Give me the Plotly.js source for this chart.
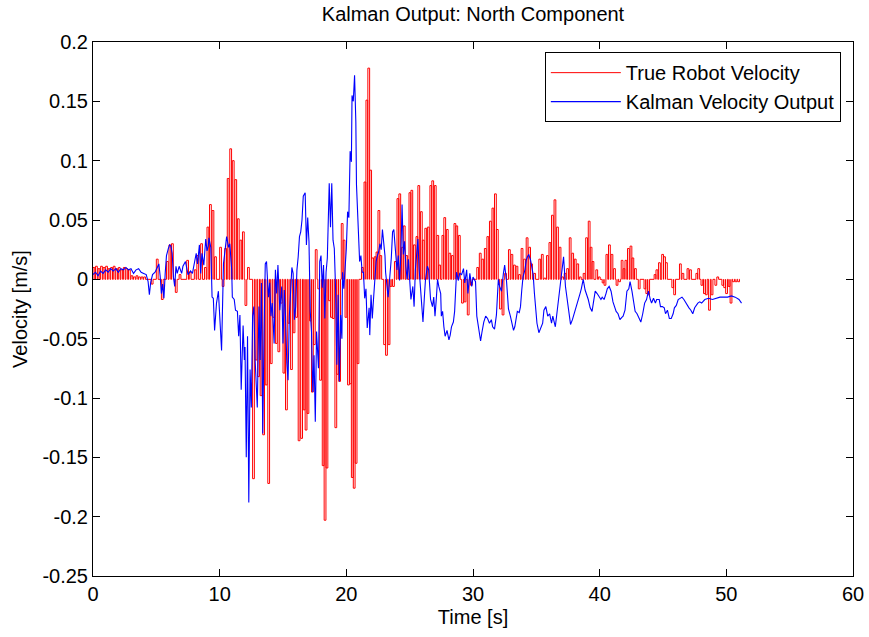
<!DOCTYPE html>
<html>
<head>
<meta charset="utf-8">
<script src="https://cdn.plot.ly/plotly-3.0.1.min.js"></script>
<style>html,body{margin:0;padding:0;background:#fff;}#chart{width:869px;height:637px;}</style>
</head>
<body>
<div id="chart"></div>
<script>
// ---- True robot velocity pulses (time s, value m/s) ----
const redT = [0.0,0.2,0.4,0.6,0.8,1.0,1.2,1.4,1.6,1.8,2.0,2.2,2.4,2.6,2.8,3.0,3.2,3.4,3.6,3.8,4.0,
  4.6,5.0,5.4,5.8,6.0,6.2,6.5,6.8,7.4,7.6,8.0,8.2,8.5,8.8,9.0,9.2,9.4,9.6,10.0,10.2,10.4,10.6,10.8,11.0,11.2,11.4,11.6,11.8,12.0,12.2,12.6,12.8,
  13.0,13.2,13.4,13.6,13.8,14.0,14.2,14.4,14.6,14.8,15.0,15.2,15.4,15.6,15.8,16.0,16.2,16.4,16.6,16.75,16.9,17.1,17.25,17.4,17.55,17.75,17.9,
  18.1,18.25,18.4,18.6,18.75,18.9,19.1,19.25,19.4,19.6,19.75,19.9,20.1,20.25,20.4,20.55,20.7,20.85,21.2,21.4,21.55,21.7,21.85,22.0,22.2,22.35,22.5,22.65,
  22.95,23.1,23.3,23.45,23.65,23.8,24.0,24.15,24.35,24.5,24.7,24.95,25.1,25.3,25.5,25.65,25.85,26.0,26.2,26.4,26.6,26.75,26.95,27.15,27.3,27.55,27.7,27.9,
  28.1,28.3,28.5,28.65,28.85,29.1,29.3,29.55,29.8,30.3,30.5,30.7,30.9,31.1,31.3,31.5,31.7,31.85,32.1,32.3,32.5,32.8,33.0,33.2,33.4,33.6,33.8,
  34.0,34.2,34.4,34.55,34.8,35.2,35.4,35.6,35.8,36.0,36.2,36.4,36.6,36.8,37.0,37.2,37.4,37.6,37.8,38.0,38.2,38.4,38.7,38.9,39.1,39.25,39.4,39.7,39.9,
  40.2,40.35,40.5,40.7,40.9,41.1,41.3,41.5,41.7,41.85,42.0,42.2,42.4,42.55,42.75,43.05,43.5,43.65,43.8,44.3,44.45,44.65,44.9,45.05,45.2,45.7,45.85,
  46.3,46.5,46.9,47.1,47.6,47.75,48.0,48.2,48.35,48.6,48.8,49.1,49.25,49.65,49.8,49.95,50.15,50.3,50.5,50.7,50.9];
const redV = [0.010,0.011,0.009,0.011,0.010,0.011,0.009,0.010,0.011,0.009,0.010,0.008,0.010,0.009,0.008,0.003,0.002,0.003,0.002,0.002,0.002,
  -0.004,0.017,-0.017,0.015,0.029,0.030,-0.011,0.004,0.016,0.006,0.008,0.020,0.030,0.010,0.044,0.063,0.058,0.019,0.027,-0.006,0.026,0.085,0.110,0.100,0.084,0.051,0.033,0.040,-0.022,0.010,-0.168,-0.068,
  -0.082,-0.098,-0.131,-0.089,-0.172,-0.071,-0.032,-0.054,-0.061,-0.020,-0.079,-0.110,-0.037,-0.076,-0.045,-0.032,-0.136,-0.134,-0.110,-0.127,-0.113,-0.035,-0.095,-0.055,0.025,-0.008,-0.085,
  -0.157,-0.203,-0.159,-0.018,-0.032,-0.033,-0.125,-0.080,-0.086,0.047,0.033,-0.032,-0.089,-0.088,-0.167,-0.176,-0.155,-0.071,0.010,0.082,0.151,0.178,0.092,0.018,0.019,0.023,0.058,0.020,
  -0.055,-0.064,-0.055,-0.006,-0.006,0.015,0.068,0.072,0.027,0.045,0.020,0.073,0.075,0.029,0.036,0.079,0.057,0.033,0.043,0.044,0.079,0.083,0.079,0.037,0.012,0.037,0.052,0.042,
  0.022,0.020,0.047,0.045,0.037,-0.020,-0.019,-0.030,-0.005,0.010,0.022,0.017,0.026,0.036,0.049,0.060,0.072,0.042,-0.025,-0.030,0.005,0.025,0.021,0.012,0.011,0.004,0.026,
  0.017,0.035,0.027,0.013,0.005,0.017,0.021,0.001,0.020,0.031,0.054,0.067,0.044,0.027,0.002,0.005,0.009,0.035,0.022,0.017,0.013,0.002,0.005,0.035,0.049,0.027,0.015,0.008,0.002,
  -0.003,-0.005,0.021,0.029,0.021,0.009,-0.005,-0.002,0.016,0.009,0.016,0.026,0.028,0.018,0.009,-0.008,-0.008,-0.012,-0.013,0.004,0.008,0.014,0.021,0.019,0.014,-0.007,-0.013,
  0.013,0.005,0.009,0.008,0.005,0.009,-0.005,-0.012,-0.013,-0.026,-0.013,-0.005,0.002,-0.005,-0.007,-0.012,-0.006,-0.020,-0.002,-0.002,-0.002];
const redEnd = 51.0;

// ---- Kalman velocity output (time s, value m/s) ----
const blueT = [0.0,0.2,0.4,0.6,0.8,1.0,1.2,1.4,1.6,1.8,2.0,2.2,2.4,2.6,2.8,3.0,3.2,3.4,3.6,3.8,4.0,4.2,4.35,4.45,4.55,4.7,4.9,5.05,5.2,5.3,5.4,5.5,5.6,5.7,5.8,5.95,
  6.05,6.15,6.25,6.35,6.45,6.55,6.65,6.8,7.0,7.1,7.3,7.5,7.7,7.85,8.0,8.15,8.25,8.4,8.5,8.6,8.75,8.9,9.0,9.1,9.15,9.3,9.4,9.5,9.6,9.75,9.9,10.0,10.15,10.3,10.4,10.55,10.7,10.8,10.95,
  11.0,11.15,11.25,11.4,11.5,11.6,11.7,11.85,11.95,12.0,12.1,12.2,12.3,12.4,12.5,12.6,12.7,12.8,12.97,13.1,13.2,13.3,13.4,13.5,13.6,13.7,13.85,13.95,14.05,14.15,14.3,14.4,14.5,14.6,14.75,14.9,
  15.0,15.1,15.2,15.3,15.4,15.5,15.6,15.7,15.8,15.9,16.0,16.1,16.2,16.3,16.4,16.5,16.6,16.75,16.85,16.95,17.05,17.15,17.25,17.35,17.45,17.55,17.65,17.8,17.9,18.0,18.1,18.2,18.3,18.4,18.5,
  18.65,18.75,18.85,18.95,19.05,19.15,19.25,19.35,19.45,19.55,19.65,19.7,19.8,19.9,20.0,20.1,20.2,20.3,20.4,20.45,20.55,20.65,20.75,20.8,20.9,21.0,21.05,21.15,21.25,21.35,21.45,21.55,21.65,21.8,21.85,21.95,
  22.05,22.15,22.25,22.35,22.45,22.55,22.65,22.75,22.85,22.95,23.05,23.1,23.2,23.3,23.4,23.55,23.65,23.75,23.85,24.0,24.1,24.2,24.3,24.4,24.5,24.6,24.7,24.8,24.9,25.0,25.1,25.25,25.35,25.45,25.55,25.65,25.75,25.85,25.95,
  26.05,26.15,26.25,26.4,26.5,26.65,26.8,26.9,27.0,27.1,27.2,27.3,27.45,27.5,27.6,27.7,27.8,27.95,28.1,28.2,28.3,28.45,28.55,28.7,28.85,28.95,29.1,29.25,29.35,29.5,29.6,29.75,29.9,30.0,30.2,30.3,30.45,30.6,30.7,30.85,
  31.0,31.15,31.3,31.45,31.55,31.7,31.85,32.0,32.1,32.25,32.4,32.5,32.65,32.8,32.95,33.05,33.2,33.3,33.4,33.5,33.65,33.75,33.85,33.95,34.1,34.2,34.3,34.4,34.55,34.65,34.75,34.85,34.95,35.05,35.2,35.35,35.5,35.6,35.75,35.9,
  36.05,36.2,36.3,36.5,36.6,36.75,36.9,37.0,37.15,37.3,37.45,37.6,37.7,37.85,38.0,38.15,38.3,38.45,38.55,38.7,38.85,39.0,39.1,39.25,39.4,39.5,39.65,39.8,39.95,40.1,40.2,40.35,40.5,40.6,40.75,40.9,
  41.05,41.2,41.3,41.45,41.6,41.75,41.85,42.0,42.15,42.3,42.4,42.55,42.7,42.8,42.95,43.1,43.25,43.4,43.55,43.7,43.85,44.0,44.1,44.25,44.4,44.5,44.7,44.8,44.95,45.1,45.2,45.35,45.5,45.65,45.8,45.9,
  46.05,46.2,46.35,46.5,46.65,46.8,46.95,47.05,47.2,47.35,47.5,47.6,47.75,47.9,48.05,48.3,48.6,48.9,49.2,49.5,49.8,50.1,50.4,50.7,51.0,51.2];
const blueV = [0.004,0.006,0.003,0.007,0.005,0.008,0.006,0.009,0.007,0.009,0.006,0.009,0.008,0.010,0.008,0.009,0.005,0.008,0.009,0.006,0.005,0.004,-0.002,-0.013,-0.003,0.004,0.006,0.010,0.013,0.003,-0.012,-0.004,-0.016,0.005,0.020,0.026,
  0.029,0.028,0.022,0.002,-0.006,0.011,0.005,0.011,0.005,0.011,0.015,0.004,0.007,0.005,0.015,0.022,0.013,0.029,0.005,0.022,0.012,0.034,0.024,0.028,0.035,0.027,-0.015,-0.016,-0.043,-0.020,-0.010,-0.027,-0.060,0.013,0.023,0.036,0.027,0.030,0.008,
  -0.015,-0.017,-0.026,-0.027,-0.048,-0.030,-0.093,-0.039,-0.068,-0.057,-0.150,-0.048,-0.188,-0.076,-0.108,-0.031,-0.023,-0.068,-0.108,-0.023,-0.068,-0.003,-0.130,-0.048,0.013,0.015,-0.015,-0.003,-0.031,-0.020,-0.054,0.008,-0.012,0.012,-0.026,-0.006,
  -0.054,-0.009,-0.031,-0.070,-0.085,-0.031,-0.015,0.010,0.005,-0.034,-0.023,0.008,0.019,0.036,0.040,0.050,0.070,0.073,0.029,0.052,0.032,-0.027,-0.044,-0.095,-0.064,-0.120,-0.044,-0.075,0.015,0.020,-0.007,0.012,-0.033,0.006,0.018,
  0.081,0.044,0.081,0.033,0.026,-0.008,-0.072,-0.013,-0.086,-0.030,-0.050,0.006,-0.008,0.009,0.026,0.057,0.052,0.108,0.099,0.155,0.150,0.172,0.133,0.080,0.054,0.032,0.015,0.020,0.006,0.006,-0.016,-0.008,-0.041,-0.024,-0.047,-0.013,
  -0.033,-0.016,-0.002,0.015,0.020,0.023,0.030,0.025,0.042,0.030,0.020,0.006,-0.008,-0.015,-0.002,0.018,0.040,0.042,0.028,0.008,0.020,-0.001,0.019,0.063,0.021,0.032,0.011,0.000,0.017,0.002,-0.017,-0.006,-0.023,0.008,0.022,0.034,0.008,-0.006,-0.026,
  -0.036,-0.017,0.000,0.011,0.008,-0.017,-0.023,-0.015,-0.031,-0.017,0.000,-0.006,-0.012,-0.031,-0.027,-0.040,-0.048,-0.043,-0.051,-0.047,-0.040,-0.036,-0.027,0.006,-0.001,0.005,0.004,0.009,-0.003,0.008,-0.012,0.005,-0.006,0.002,-0.002,-0.031,-0.044,-0.052,-0.045,-0.036,
  -0.031,-0.033,-0.037,-0.034,-0.040,-0.042,-0.030,0.000,-0.006,-0.010,0.005,0.012,-0.002,-0.025,-0.031,-0.037,-0.043,-0.040,-0.031,-0.027,-0.028,-0.023,-0.009,0.002,0.008,0.016,0.019,0.021,0.016,0.008,0.004,-0.012,-0.023,-0.037,-0.045,-0.040,-0.037,-0.026,-0.023,-0.031,
  -0.029,-0.037,-0.031,-0.040,-0.031,-0.017,-0.006,0.008,0.019,-0.006,-0.017,-0.031,-0.038,-0.034,-0.029,-0.024,-0.017,-0.012,-0.008,0.000,-0.009,-0.013,-0.017,-0.024,-0.027,-0.020,-0.010,-0.012,-0.015,-0.017,-0.015,-0.017,-0.012,-0.008,-0.006,-0.010,
  -0.019,-0.023,-0.027,-0.029,-0.034,-0.032,-0.031,-0.026,-0.010,-0.008,-0.002,-0.010,-0.020,-0.027,-0.029,-0.033,-0.036,-0.029,-0.020,-0.017,-0.010,-0.017,-0.020,-0.016,-0.020,-0.017,-0.017,-0.023,-0.023,-0.024,-0.029,-0.026,-0.033,-0.033,-0.029,-0.024,
  -0.022,-0.017,-0.016,-0.015,-0.017,-0.020,-0.022,-0.024,-0.026,-0.029,-0.024,-0.022,-0.020,-0.019,-0.020,-0.017,-0.016,-0.017,-0.016,-0.015,-0.015,-0.015,-0.014,-0.015,-0.017,-0.020];

// ---- Axis ticks ----
const xTickVals = [0,10,20,30,40,50,60];
const xTickText = ["0","10","20","30","40","50","60"];
const yTickVals = [-0.25,-0.2,-0.15,-0.1,-0.05,0,0.05,0.1,0.15,0.2];
const yTickText = ["-0.25","-0.2","-0.15","-0.1","-0.05","0","0.05","0.1","0.15","0.2"];

// Build the pulse-shaped red line from the samples
const PULSE_W = 0.14;
const rx = [0], ry = [0];
for (let i = 0; i < redT.length; i++) {
  const t = redT[i], v = redV[i];
  rx.push(t, t, t + PULSE_W, t + PULSE_W);
  ry.push(0, v, v, 0);
}
rx.push(redEnd); ry.push(0);

const font = "Liberation Sans, Arial, Helvetica, sans-serif";
const traces = [
  {x: rx, y: ry, type: 'scatter', mode: 'lines', name: 'True Robot Velocity',
   line: {color: '#ff0000', width: 1}},
  {x: blueT, y: blueV, type: 'scatter', mode: 'lines', name: 'Kalman Velocity Output',
   line: {color: '#0000ff', width: 1.1}}
];
const axisCommon = {
  showline: true, linecolor: '#000', linewidth: 1, mirror: 'ticks',
  ticks: 'inside', ticklen: 7, tickcolor: '#000', tickwidth: 1,
  showgrid: false, zeroline: false, tickmode: 'array',
  tickfont: {family: font, size: 20, color: '#000'}
};
const layout = {
  width: 869, height: 637,
  margin: {l: 93, r: 16, t: 42, b: 61},
  paper_bgcolor: '#fff', plot_bgcolor: '#fff',
  title: {text: 'Kalman Output: North Component', font: {family: font, size: 20, color: '#000'},
          x: 0.5, xref: 'paper', y: 1, yref: 'container', yanchor: 'top', pad: {t: 7}},
  xaxis: Object.assign({}, axisCommon, {range: [0, 60], tickvals: xTickVals, ticktext: xTickText,
          title: {text: 'Time [s]', font: {family: font, size: 20, color: '#000'}, standoff: 5}}),
  yaxis: Object.assign({}, axisCommon, {range: [-0.25, 0.2], tickvals: yTickVals, ticktext: yTickText,
          title: {text: 'Velocity [m/s]', font: {family: font, size: 20, color: '#000'}, standoff: 9}}),
  showlegend: true,
  legend: {x: 0.984, y: 0.981, xanchor: 'right', yanchor: 'top', bgcolor: '#fff',
           bordercolor: '#000', borderwidth: 1, font: {family: font, size: 20, color: '#000'},
           tracegroupgap: 0, itemwidth: 70}
};
Plotly.newPlot('chart', traces, layout, {displayModeBar: false, staticPlot: true});
</script>
</body>
</html>
